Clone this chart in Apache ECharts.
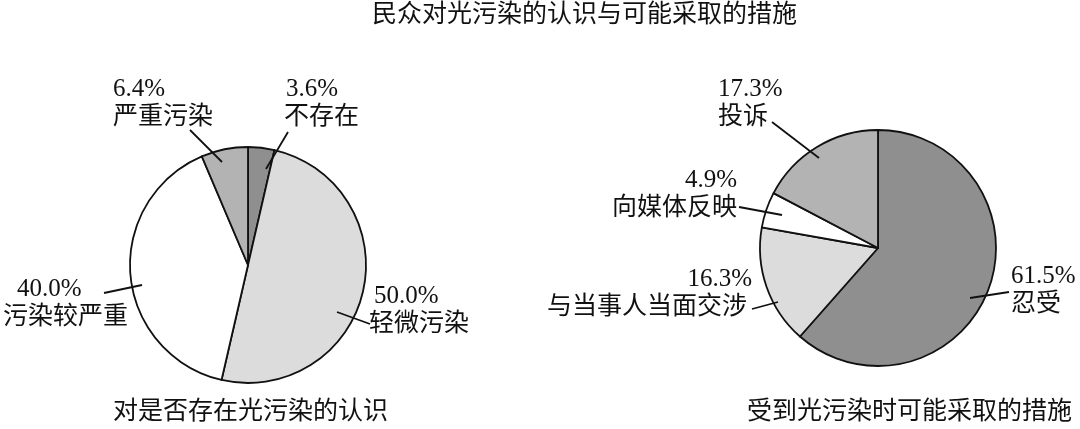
<!DOCTYPE html>
<html>
<head>
<meta charset="utf-8">
<script src="https://cdn.jsdelivr.net/npm/echarts@6/dist/echarts.min.js"></script>
<style>
  html, body { margin: 0; padding: 0; background: #fff; }
  #chart { width: 1080px; height: 429px; }
</style>
</head>
<body>
<div id="chart"></div>
<script>
const titleText = "民众对光污染的认识与可能采取的措施";
const leftCaption = "对是否存在光污染的认识";
const rightCaption = "受到光污染时可能采取的措施";

const leftNames = ["不存在", "轻微污染", "污染较严重", "严重污染"];
const leftValues = [3.6, 50.0, 40.0, 6.4];
const rightNames = ["忍受", "与当事人当面交涉", "向媒体反映", "投诉"];
const rightValues = [61.5, 16.3, 4.9, 17.3];

// same fill order for both pies
const sliceColors = ["#8f8f8f", "#dcdcdc", "#ffffff", "#b3b3b3"];

const FONT = "'Liberation Serif', 'Noto Sans CJK SC', serif";
const R = 118;
const leftCenter = [248, 265];
const rightCenter = [878, 248];

// label placement relative to pie centre:
// [labelX, labelY, align, lineStartX, lineStartY, lineEndX, lineEndY, shift]
const leftLabelPos = [
  [36, -190, "left", 18, -96, 40, -133, 2],
  [121, 17, "left", 89, 47, 122, 59, 5],
  [-245, 10, "left", -106, 20, -144, 28, 14],
  [-135, -190, "left", -26, -103, -58, -135, 0],
];
const rightLabelPos = [
  [133, 14, "left", 92, 50, 131, 44, 0],
  [-126, 17, "right", -100, 54, -126, 61, 5],
  [-141, -82, "right", -96, -33, -139, -41, 0],
  [-160, -173, "left", -59, -90, -106, -126, 0],
];

const richFor = (p) => ({
  n: {
    fontFamily: FONT, fontSize: 25, lineHeight: 28, color: "#111",
    padding: p[2] === "left" ? [0, 0, 0, p[7]] : [0, 0, 0, 0],
  },
  t: {
    fontFamily: FONT, fontSize: 25, lineHeight: 28, color: "#111",
    padding: p[2] === "right" ? [0, p[7], 0, 0] : [0, 0, 0, 0],
  },
});

// filled slices
const basePie = (names, values, center) => ({
  type: "pie",
  z: 2,
  center: center,
  radius: R,
  startAngle: 90,
  clockwise: true,
  silent: true,
  animation: false,
  itemStyle: { borderColor: "#111", borderWidth: 1.8 },
  label: { show: false },
  labelLine: { show: false },
  data: names.map((name, i) => ({
    name: name,
    value: values[i],
    itemStyle: { color: sliceColors[i] },
  })),
});

// transparent copy on top that carries the labels, so leader lines cross the slices
const labelPie = (names, values, center, pos) => ({
  type: "pie",
  z: 5,
  center: center,
  radius: R,
  startAngle: 90,
  clockwise: true,
  avoidLabelOverlap: false,
  silent: true,
  animation: false,
  itemStyle: { color: "rgba(0,0,0,0)", borderWidth: 0 },
  label: {
    show: true,
    position: "outside",
    color: "#111",
    fontFamily: FONT,
    fontSize: 25,
    lineHeight: 28,
    formatter: (p) => "{n|" + p.value.toFixed(1) + "%}\n{t|" + p.name + "}",
  },
  labelLine: { show: true, lineStyle: { color: "#111", width: 1.8 } },
  labelLayout: (params) => {
    const p = pos[params.dataIndex];
    const s = [center[0] + p[3], center[1] + p[4]];
    const e = [center[0] + p[5], center[1] + p[6]];
    return {
      x: center[0] + p[0],
      y: center[1] + p[1],
      align: p[2],
      verticalAlign: "top",
      labelLinePoints: [s, [(s[0] + e[0]) / 2, (s[1] + e[1]) / 2], e],
    };
  },
  data: names.map((name, i) => ({
    name: name,
    value: values[i],
    label: { rich: richFor(pos[i]) },
  })),
});

const textStyle = {
  fontFamily: FONT, fontSize: 25, fontWeight: "normal", color: "#111", lineHeight: 26,
};

const chart = echarts.init(document.getElementById("chart"), null, { renderer: "canvas" });
chart.setOption({
  backgroundColor: "#fff",
  animation: false,
  title: [
    { text: titleText, left: 372, top: 2, padding: 0, textStyle },
    { text: leftCaption, left: 113, top: 399, padding: 0, textStyle },
    { text: rightCaption, left: 747, top: 399, padding: 0, textStyle },
  ],
  series: [
    basePie(leftNames, leftValues, leftCenter),
    basePie(rightNames, rightValues, rightCenter),
    labelPie(leftNames, leftValues, leftCenter, leftLabelPos),
    labelPie(rightNames, rightValues, rightCenter, rightLabelPos),
  ],
});
</script>
</body>
</html>
